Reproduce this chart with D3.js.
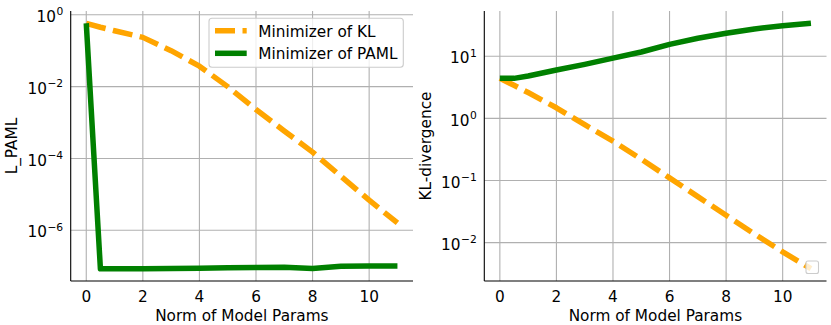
<!DOCTYPE html>
<html>
<head>
<meta charset="utf-8">
<script src="https://cdn.jsdelivr.net/npm/d3@7"></script>
<style>
  body { margin: 0; background: #fff; }
  svg { display: block; font-family: 'DejaVu Sans', sans-serif; }
</style>
</head>
<body>
<div id="chart"></div>
<script>
// data
const normValues = [0, 0.5, 1, 2, 3, 4, 5, 6, 7, 8, 9, 10, 11]

// left panel: L_PAML
const lpamlKlMin = [0.575, 0.45, 0.36, 0.235, 0.1, 0.037, 0.01, 0.0023, 5.8e-4, 1.5e-4, 3.2e-5, 6.9e-6, 1.6e-6]
const lpamlPamlMin = [0.58, 8.5e-8, 8.5e-8, 8.5e-8, 8.6e-8, 8.7e-8, 9.0e-8, 9.2e-8, 9.4e-8, 8.6e-8, 1.0e-7, 1.02e-7, 1.02e-7]

// right panel: KL-divergence
const klKlMin = [4.4, 3.4, 2.6, 1.48, 0.79, 0.43, 0.22, 0.11, 0.055, 0.0275, 0.0138, 0.0071, 0.0038]
const klPamlMin = [4.4, 4.4, 4.8, 6.0, 7.4, 9.3, 11.7, 15.5, 19.5, 23.4, 27.5, 30.9, 33.9]

const xTicks = [0, 2, 4, 6, 8, 10]
const leftYTicks = [1e0, 1e-2, 1e-4, 1e-6]
const rightYTicks = [1e1, 1e0, 1e-1, 1e-2]
const legendLabels = ['Minimizer of KL', 'Minimizer of PAML']

const width = 831
const height = 325
const fontSize = 15.3
const lineW = 5.5
const dashes = '20,7.5'
const gridColor = '#b0b0b0'
const klColor = 'orange'
const pamlColor = 'green'

const svg = d3.select('#chart').append('svg')
  .attr('width', width)
  .attr('height', height)

// matplotlib-like margins: 5% of data span (log space for y)
function padLog(values) {
  const ext = d3.extent(values).map(Math.log10)
  const pad = (ext[1] - ext[0]) * 0.05
  return [Math.pow(10, ext[0] - pad), Math.pow(10, ext[1] + pad)]
}

function exponentOf(v) {
  return Math.round(Math.log10(v))
}

function drawPanel(opts) {
  const g = svg.append('g')
  const x = d3.scaleLinear()
    .domain([-0.55, 11.55])
    .range([opts.left, opts.right])
  const y = d3.scaleLog()
    .domain(padLog(opts.klMin.concat(opts.pamlMin)))
    .range([opts.bottom, opts.top])

  // grid
  g.append('g')
    .selectAll('line')
    .data(xTicks)
    .join('line')
    .attr('x1', d => x(d))
    .attr('x2', d => x(d))
    .attr('y1', opts.top)
    .attr('y2', opts.bottom)
    .attr('stroke', gridColor)
    .attr('stroke-width', 1.1)
  g.append('g')
    .selectAll('line')
    .data(opts.yTicks)
    .join('line')
    .attr('x1', opts.left)
    .attr('x2', opts.right)
    .attr('y1', d => y(d))
    .attr('y2', d => y(d))
    .attr('stroke', gridColor)
    .attr('stroke-width', 1.1)

  // clip lines to the axes box
  const clipId = 'clip-' + opts.name
  svg.append('clipPath')
    .attr('id', clipId)
    .append('rect')
    .attr('x', opts.left)
    .attr('y', opts.top)
    .attr('width', opts.right - opts.left)
    .attr('height', opts.bottom - opts.top)

  const line = d3.line()
    .x((d, i) => x(normValues[i]))
    .y(d => y(d))

  const lines = g.append('g').attr('clip-path', 'url(#' + clipId + ')')
  lines.append('path')
    .attr('d', line(opts.klMin))
    .attr('fill', 'none')
    .attr('stroke', klColor)
    .attr('stroke-width', lineW)
    .attr('stroke-dasharray', dashes)
    .attr('stroke-linejoin', 'round')
  lines.append('path')
    .attr('d', line(opts.pamlMin))
    .attr('fill', 'none')
    .attr('stroke', pamlColor)
    .attr('stroke-width', lineW)
    .attr('stroke-linejoin', 'round')

  // spines (left + bottom only)
  g.append('line')
    .attr('x1', opts.left).attr('x2', opts.left)
    .attr('y1', opts.top).attr('y2', opts.bottom)
    .attr('stroke', '#000').attr('stroke-width', 1.1)
  g.append('line')
    .attr('x1', opts.left).attr('x2', opts.right)
    .attr('y1', opts.bottom).attr('y2', opts.bottom)
    .attr('stroke', '#000').attr('stroke-width', 1.1)

  // x tick labels
  g.append('g')
    .selectAll('text')
    .data(xTicks)
    .join('text')
    .attr('x', d => x(d))
    .attr('y', opts.bottom + 20.5)
    .attr('text-anchor', 'middle')
    .attr('font-size', fontSize)
    .text(d => d)

  // y tick labels, 10^n
  const yLabels = g.append('g')
    .selectAll('text')
    .data(opts.yTicks)
    .join('text')
    .attr('x', opts.left - 7.5)
    .attr('y', d => y(d) + 7.2)
    .attr('text-anchor', 'end')
    .attr('font-size', fontSize)
  yLabels.append('tspan').text('10')
  yLabels.append('tspan')
    .attr('dx', 0.5)
    .attr('dy', -6.7)
    .attr('font-size', fontSize * 0.7)
    .text(d => String(exponentOf(d)).replace('-', '\u2212'))

  // axis titles
  g.append('text')
    .attr('x', (opts.left + opts.right) / 2)
    .attr('y', 321)
    .attr('text-anchor', 'middle')
    .attr('font-size', fontSize)
    .text('Norm of Model Params')
  g.append('text')
    .attr('transform', 'translate(' + (opts.left - 53.8) + ',' + (opts.top + opts.bottom) / 2 + ') rotate(-90)')
    .attr('text-anchor', 'middle')
    .attr('font-size', fontSize)
    .text(opts.yTitle)

  return { g, x, y }
}

const leftPanel = drawPanel({
  name: 'left',
  left: 70.7,
  right: 413,
  top: 11,
  bottom: 281,
  klMin: lpamlKlMin,
  pamlMin: lpamlPamlMin,
  yTicks: leftYTicks,
  yTitle: 'L_PAML'
})

const rightPanel = drawPanel({
  name: 'right',
  left: 484.3,
  right: 826.5,
  top: 11,
  bottom: 281,
  klMin: klKlMin,
  pamlMin: klPamlMin,
  yTicks: rightYTicks,
  yTitle: 'KL-divergence'
})

// legend on the left panel
const legend = leftPanel.g.append('g')
legend.append('rect')
  .attr('x', 209)
  .attr('y', 18.3)
  .attr('width', 194.3)
  .attr('height', 49)
  .attr('rx', 3)
  .attr('fill', '#fff')
  .attr('fill-opacity', 0.8)
  .attr('stroke', '#cccccc')
  .attr('stroke-width', 1.1)
const legendRows = legend.selectAll('g.row')
  .data(legendLabels)
  .join('g')
  .attr('class', 'row')
  .attr('transform', (d, i) => 'translate(0,' + (i === 0 ? 30.7 : 53.3) + ')')
legendRows.append('line')
  .attr('x1', 215)
  .attr('x2', 246.7)
  .attr('stroke', (d, i) => i === 0 ? klColor : pamlColor)
  .attr('stroke-width', lineW)
  .attr('stroke-dasharray', (d, i) => i === 0 ? dashes : null)
legendRows.append('text')
  .attr('x', 258.3)
  .attr('y', 5.8)
  .attr('font-size', fontSize)
  .text(d => d)

// empty legend box on the right panel (no labelled handles)
rightPanel.g.append('rect')
  .attr('x', 806)
  .attr('y', 261)
  .attr('width', 12.5)
  .attr('height', 12.5)
  .attr('rx', 2)
  .attr('fill', '#fff')
  .attr('fill-opacity', 0.8)
  .attr('stroke', '#cccccc')
  .attr('stroke-width', 1.1)
</script>
</body>
</html>
